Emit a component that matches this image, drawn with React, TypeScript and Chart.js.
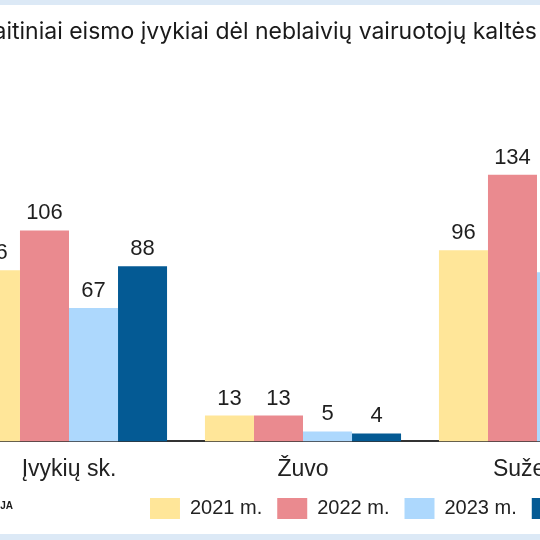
import React, { useEffect, useRef } from "react";
import { Chart, registerables } from "chart.js";

Chart.register(...registerables);

const categories = ["Įvykių sk.", "Žuvo", "Sužeista"];
const seriesLabels = ["2021 m.", "2022 m.", "2023 m.", "2024 m."];
const values2021 = [86, 13, 96];
const values2022 = [106, 13, 134];
const values2023 = [67, 5, 85];
const values2024 = [88, 4, 90];
const seriesColors = ["#FFE699", "#EA8A8F", "#ADD8FD", "#045A94"];
const titleText = "Įskaitiniai eismo įvykiai dėl neblaivių vairuotojų kaltės";
const sourceText = "POLICIJA";

const CANVAS_W = 922;
const CANVAS_H = 529;

const valueLabelPlugin = {
  id: "valueLabels",
  afterDatasetsDraw(chart: any) {
    const ctx = chart.ctx;
    ctx.save();
    ctx.font = '22px "Liberation Sans", Arial, sans-serif';
    ctx.fillStyle = "#1f1f1f";
    ctx.textAlign = "center";
    ctx.textBaseline = "alphabetic";
    chart.data.datasets.forEach((ds: any, i: number) => {
      const meta = chart.getDatasetMeta(i);
      meta.data.forEach((bar: any, j: number) => {
        ctx.fillText(String(ds.data[j]), bar.x, bar.y - 11);
      });
    });
    ctx.restore();
  },
};

const textPlugin = {
  id: "titleAndSource",
  afterDraw(chart: any) {
    const ctx = chart.ctx;
    ctx.save();
    ctx.fillStyle = "#1a1a1a";
    ctx.font = '23px Inter, "Noto Sans", sans-serif';
    ctx.textAlign = "right";
    ctx.textBaseline = "alphabetic";
    ctx.fillText(titleText, 607, 34);
    ctx.font = 'bold 10px "Liberation Sans", Arial, sans-serif';
    ctx.textBaseline = "middle";
    ctx.fillText(sourceText, 83, 501);
    ctx.restore();
  },
};

export default function App() {
  const ref = useRef<HTMLCanvasElement | null>(null);

  useEffect(() => {
    if (!ref.current) return;
    const allValues = [values2021, values2022, values2023, values2024];
    const chart = new Chart(ref.current, {
      type: "bar",
      data: {
        labels: categories,
        datasets: allValues.map((vals, i) => ({
          label: seriesLabels[i],
          data: vals,
          backgroundColor: seriesColors[i],
          borderWidth: 0,
          barPercentage: 1,
          categoryPercentage: 0.838,
        })),
      },
      options: {
        responsive: false,
        animation: false,
        layout: { padding: { left: 22, right: 10, top: 118, bottom: 5 } },
        plugins: {
          title: { display: false },
          tooltip: { enabled: false },
          legend: {
            position: "bottom",
            labels: {
              boxWidth: 30,
              boxHeight: 21,
              padding: 15,
              color: "#222",
              font: { size: 20, family: '"Liberation Sans", Arial, sans-serif' },
            },
          },
        },
        scales: {
          x: {
            grid: { display: false, drawTicks: false },
            border: { display: true, color: "#333", width: 2 },
            ticks: {
              padding: 14,
              color: "#222",
              font: { size: 23, family: '"Liberation Sans", Arial, sans-serif' },
            },
            afterFit(scale: any) {
              scale.height = scale.height - 14;
            },
          },
          y: {
            position: "right",
            min: 0,
            max: 160,
            grid: { display: false, drawTicks: false },
            border: { display: false },
            ticks: { display: false },
            afterFit(scale: any) {
              scale.width = 188;
            },
          },
        },
      },
      plugins: [valueLabelPlugin, textPlugin],
    });
    return () => chart.destroy();
  }, []);

  return (
    <div
      style={{
        position: "fixed",
        left: 0,
        top: 0,
        width: 540,
        height: 540,
        overflow: "hidden",
        background: "#DCE9F6",
      }}
    >
      <div
        style={{
          position: "absolute",
          left: 0,
          top: 5,
          width: 540,
          height: CANVAS_H,
          background: "#ffffff",
          overflow: "hidden",
        }}
      >
        <div style={{ position: "absolute", left: -70, top: 0, width: CANVAS_W, height: CANVAS_H }}>
          <canvas ref={ref} width={CANVAS_W} height={CANVAS_H} style={{ width: CANVAS_W, height: CANVAS_H, display: "block" }} />
        </div>
      </div>
    </div>
  );
}
